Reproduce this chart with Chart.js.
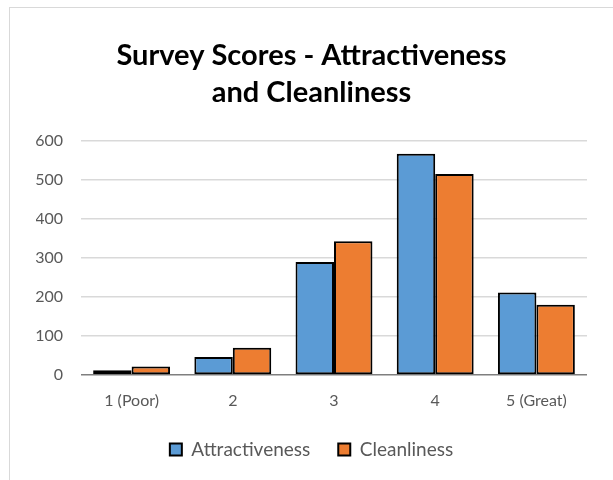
<!DOCTYPE html>
<html>
<head>
<meta charset="utf-8">
<script src="https://cdn.jsdelivr.net/npm/chart.js@4"></script>
<style>
  html, body { margin: 0; padding: 0; background: #fff; }
  #frame { position: absolute; left: 9px; top: 7px; width: 700px; height: 600px; border: 1px solid #d9d9d9; }
  #wrap { position: absolute; left: 0; top: 0; width: 613px; height: 480px; }
</style>
</head>
<body>
<div id="frame"></div>
<div id="wrap"><canvas id="surveyChart" width="613" height="480"></canvas></div>
<script>
// Datos del gráfico
const categories = ['1 (Poor)', '2', '3', '4', '5 (Great)'];
const attractiveness = [12, 46, 290, 568, 212];
const cleanliness = [22, 70, 343, 516, 180];
const yTicks = [0, 100, 200, 300, 400, 500, 600];

const FONT = 'Lato, "Open Sans", sans-serif';

new Chart(document.getElementById('surveyChart'), {
  type: 'bar',
  data: {
    labels: categories,
    datasets: [
      {
        label: 'Attractiveness',
        data: attractiveness,
        backgroundColor: '#5b9bd5',
        borderColor: '#000',
        borderWidth: 2,
        borderSkipped: false
      },
      {
        label: 'Cleanliness',
        data: cleanliness,
        backgroundColor: '#ed7d31',
        borderColor: '#000',
        borderWidth: 2,
        borderSkipped: false
      }
    ]
  },
  options: {
    responsive: false,
    animation: false,
    datasets: {
      bar: { categoryPercentage: 0.76, barPercentage: 1.0 }
    },
    layout: { padding: { left: 36, right: 26, top: 0, bottom: 11 } },
    scales: {
      x: {
        grid: { display: false },
        border: { display: false },
        ticks: { color: '#595959', font: { family: FONT, size: 16 }, padding: 8 },
        afterFit: scale => { scale.height = 37; }
      },
      y: {
        min: 0,
        max: 600,
        afterBuildTicks: scale => { scale.ticks = yTicks.map(v => ({ value: v })); },
        grid: {
          drawTicks: false,
          lineWidth: 1.5,
          color: ctx => (ctx.tick && ctx.tick.value === 0) ? '#7f7f7f' : '#d9d9d9'
        },
        border: { display: false },
        ticks: { color: '#595959', font: { family: FONT, size: 16 }, padding: 18 },
        afterFit: scale => { scale.width = 45; }
      }
    },
    plugins: {
      title: {
        display: true,
        text: ['Survey Scores - Attractiveness', 'and Cleanliness'],
        color: '#000',
        font: { family: FONT, size: 29, weight: 'bold', lineHeight: 1.28 },
        padding: { top: 37, bottom: 30 }
      },
      legend: {
        position: 'bottom',
        labels: {
          color: '#595959',
          font: { family: FONT, size: 19 },
          boxWidth: 12,
          boxHeight: 12,
          padding: 28,
          useBorderRadius: false
        }
      },
      tooltip: { enabled: false }
    }
  }
});
</script>
</body>
</html>
